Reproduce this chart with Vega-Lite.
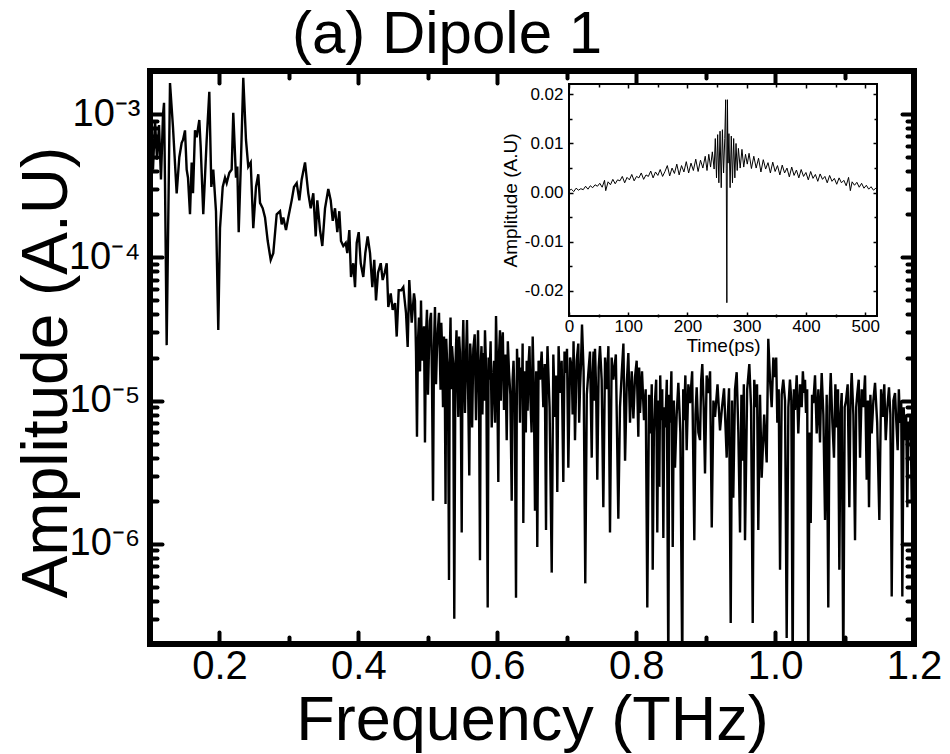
{
"$schema": "https://vega.github.io/schema/vega-lite/v6.json",
"width": 764, "height": 573,
"autosize": {"type": "none"},
"padding": {"left": 150, "top": 71, "right": 36, "bottom": 110},
"background": "white",
"config": {"view": {"stroke": "black", "strokeWidth": 6}, "font": "Liberation Sans"},
"title": {"text": "(a) Dipole 1", "fontSize": 60, "font": "Liberation Sans", "fontWeight": "normal", "anchor": "middle", "dx": -85, "dy": 52, "offset": 8, "baseline": "alphabetic", "color": "black", "frame": "group"},
"datasets": {
"spec": [
{"f":0.1014,"a":8.4e-4},{"f":0.1043,"a":4.1e-4},{"f":0.1072,"a":9.1e-4},{"f":0.1101,"a":4.8e-4},{"f":0.1130,"a":8.4e-4},{"f":0.1158,"a":3.5e-4},{"f":0.1187,"a":9.9e-4},{"f":0.1202,"a":1.2e-3},{"f":0.1216,"a":3.3e-4},{"f":0.1240,"a":2.44e-5},{"f":0.1288,"a":1.65e-3},{"f":0.1331,"a":8.1e-4},{"f":0.1384,"a":2.8e-4},{"f":0.1422,"a":5.0e-4},{"f":0.1456,"a":6.3e-4},{"f":0.1475,"a":6.6e-4},{"f":0.1504,"a":7.7e-4},{"f":0.1528,"a":4.1e-4},{"f":0.1547,"a":3.6e-4},{"f":0.1576,"a":2.0e-4},{"f":0.1600,"a":4.6e-4},{"f":0.1619,"a":2.8e-4},{"f":0.1648,"a":7.7e-4},{"f":0.1672,"a":6.9e-4},{"f":0.1710,"a":9.1e-4},{"f":0.1730,"a":5.9e-4},{"f":0.1767,"a":2.0e-4},{"f":0.1816,"a":6.6e-4},{"f":0.1854,"a":1.43e-3},{"f":0.1883,"a":3.1e-4},{"f":0.1911,"a":4.1e-4},{"f":0.1950,"a":2.1e-4},{"f":0.1983,"a":3.11e-5},{"f":0.2008,"a":1.6e-4},{"f":0.2047,"a":3.1e-4},{"f":0.2080,"a":3.6e-4},{"f":0.2104,"a":3.3e-4},{"f":0.2142,"a":3.9e-4},{"f":0.2176,"a":4.1e-4},{"f":0.2199,"a":1.02e-3},{"f":0.2238,"a":3.6e-4},{"f":0.2257,"a":4.3e-4},{"f":0.2277,"a":1.5e-4},{"f":0.2310,"a":4.8e-4},{"f":0.2343,"a":1.79e-3},{"f":0.2382,"a":6.6e-4},{"f":0.2415,"a":4.3e-4},{"f":0.2450,"a":4.6e-4},{"f":0.2487,"a":1.6e-4},{"f":0.2526,"a":3.1e-4},{"f":0.2559,"a":3.8e-4},{"f":0.2584,"a":2.4e-4},{"f":0.2623,"a":2.2e-4},{"f":0.2656,"a":1.9e-4},{"f":0.2695,"a":1.3e-4},{"f":0.2738,"a":9.6e-5},{"f":0.2775,"a":1.07e-4},{"f":0.2824,"a":2.0e-4},{"f":0.2872,"a":2.1e-4},{"f":0.2896,"a":1.7e-4},{"f":0.2919,"a":1.9e-4},{"f":0.2958,"a":1.55e-4},{"f":0.2991,"a":1.9e-4},{"f":0.3040,"a":2.5e-4},{"f":0.3073,"a":3.1e-4},{"f":0.3112,"a":3.3e-4},{"f":0.3150,"a":2.5e-4},{"f":0.3184,"a":3.5e-4},{"f":0.3232,"a":4.6e-4},{"f":0.3279,"a":2.8e-4},{"f":0.3314,"a":2.2e-4},{"f":0.3351,"a":2.8e-4},{"f":0.3386,"a":1.4e-4},{"f":0.3409,"a":2.5e-4},{"f":0.3448,"a":1.55e-4},{"f":0.3481,"a":1.2e-4},{"f":0.3520,"a":2.2e-4},{"f":0.3567,"a":3.0e-4},{"f":0.3602,"a":2.5e-4},{"f":0.3631,"a":1.8e-4},{"f":0.3664,"a":2.2e-4},{"f":0.3697,"a":1.5e-4},{"f":0.3726,"a":2.1e-4},{"f":0.3750,"a":1.3e-4},{"f":0.3783,"a":1.2e-4},{"f":0.3818,"a":1.26e-4},{"f":0.3841,"a":1.07e-4},{"f":0.3870,"a":1.55e-4},{"f":0.3894,"a":7.3e-5},{"f":0.3927,"a":9.1e-5},{"f":0.3952,"a":6.2e-5},{"f":0.3976,"a":1.26e-4},{"f":0.4005,"a":1.5e-4},{"f":0.4034,"a":9.1e-5},{"f":0.4071,"a":7.3e-5},{"f":0.4100,"a":1.07e-4},{"f":0.4134,"a":1.4e-4},{"f":0.4168,"a":1.07e-4},{"f":0.4201,"a":6.2e-5},{"f":0.4229,"a":9.6e-5},{"f":0.4254,"a":5.0e-5},{"f":0.4283,"a":7.8e-5},{"f":0.4322,"a":9.1e-5},{"f":0.4350,"a":6.95e-5},{"f":0.4379,"a":7.8e-5},{"f":0.4408,"a":9.1e-5},{"f":0.4431,"a":4.5e-5},{"f":0.4466,"a":5.6e-5},{"f":0.4494,"a":4.3e-5},{"f":0.4528,"a":4.8e-5},{"f":0.4552,"a":2.8e-5},{"f":0.4581,"a":5.9e-5},{"f":0.4618,"a":5.9e-5},{"f":0.4647,"a":6.2e-5},{"f":0.4686,"a":4.1e-5},{"f":0.4710,"a":2.37e-5},{"f":0.4733,"a":6.95e-5},{"f":0.4768,"a":3.5e-5},{"f":0.4801,"a":5.6e-5},
{"f":0.4815,"a":5.0e-5},{"f":0.4830,"a":2.2e-5},{"f":0.4844,"a":5.6e-6},{"f":0.4858,"a":2.6e-5},{"f":0.4873,"a":3.8e-5},{"f":0.4888,"a":1.6e-5},{"f":0.4902,"a":5.0e-5},{"f":0.4916,"a":1.9e-5},{"f":0.4931,"a":2.65e-5},{"f":0.4945,"a":3.3e-5},{"f":0.4959,"a":5.1e-6},{"f":0.4974,"a":2.9e-5},{"f":0.4988,"a":4.3e-5},{"f":0.5002,"a":1.1e-5},{"f":0.5017,"a":2.3e-5},{"f":0.5031,"a":3.6e-5},{"f":0.5046,"a":4.1e-5},{"f":0.5060,"a":1.4e-5},{"f":0.5075,"a":2.0e-6},{"f":0.5089,"a":2.4e-5},{"f":0.5103,"a":4.5e-5},{"f":0.5118,"a":1.3e-5},{"f":0.5132,"a":2.3e-5},{"f":0.5146,"a":3.2e-5},{"f":0.5161,"a":4.1e-5},{"f":0.5172,"a":2.2e-5},{"f":0.5183,"a":1.19e-5},{"f":0.5194,"a":3.5e-5},{"f":0.5204,"a":2.5e-5},{"f":0.5219,"a":9.0e-6},{"f":0.5233,"a":2.8e-5},{"f":0.5244,"a":1.5e-5},{"f":0.5255,"a":1.9e-6},{"f":0.5265,"a":2.7e-5},{"f":0.5276,"a":2.0e-5},{"f":0.5290,"a":1.6e-5},{"f":0.5305,"a":5.6e-7},{"f":0.5316,"a":2.1e-5},{"f":0.5327,"a":3.8e-5},{"f":0.5337,"a":1.2e-5},{"f":0.5348,"a":2.4e-5},{"f":0.5365,"a":1.8e-5},{"f":0.5381,"a":3.0e-7},{"f":0.5397,"a":1.7e-5},{"f":0.5413,"a":3.1e-5},{"f":0.5426,"a":1.4e-5},{"f":0.5439,"a":7.7e-6},{"f":0.5451,"a":2.8e-5},{"f":0.5463,"a":2.15e-5},{"f":0.5475,"a":9.0e-6},{"f":0.5488,"a":1.2e-6},{"f":0.5500,"a":2.2e-5},{"f":0.5511,"a":3.65e-5},{"f":0.5523,"a":1.5e-5},{"f":0.5535,"a":8.2e-6},{"f":0.5550,"a":2.0e-5},{"f":0.5564,"a":3.65e-5},{"f":0.5580,"a":1.2e-5},{"f":0.5597,"a":3.0e-6},{"f":0.5610,"a":2.5e-5},{"f":0.5622,"a":1.9e-5},{"f":0.5638,"a":6.5e-6},{"f":0.5655,"a":2.3e-5},{"f":0.5675,"a":2.9e-5},{"f":0.5694,"a":7.3e-6},{"f":0.5708,"a":1.7e-5},{"f":0.5723,"a":3.1e-5},{"f":0.5737,"a":1.1e-5},{"f":0.5751,"a":7.7e-7},{"f":0.5762,"a":1.8e-5},{"f":0.5773,"a":2.4e-5},{"f":0.5786,"a":8.0e-6},{"f":0.5799,"a":2.15e-5},{"f":0.5811,"a":1.0e-5},{"f":0.5823,"a":3.1e-5},{"f":0.5842,"a":1.5e-5},{"f":0.5862,"a":3.6e-7},{"f":0.5875,"a":2.0e-5},{"f":0.5888,"a":1.4e-5},{"f":0.5904,"a":2.6e-5},{"f":0.5920,"a":6.5e-6},{"f":0.5936,"a":1.3e-5},{"f":0.5953,"a":1.9e-5},{"f":0.5968,"a":7.0e-6},{"f":0.5982,"a":3.9e-5},{"f":0.5998,"a":1.6e-5},{"f":0.6015,"a":2.7e-6},{"f":0.6027,"a":2.2e-5},{"f":0.6039,"a":3.1e-5},{"f":0.6051,"a":1.0e-5},{"f":0.6064,"a":2.4e-5},{"f":0.6080,"a":3.0e-5},{"f":0.6097,"a":8.6e-6},{"f":0.6116,"a":2.1e-5},{"f":0.6136,"a":5.3e-6},{"f":0.6152,"a":2.6e-5},{"f":0.6169,"a":1.6e-5},{"f":0.6188,"a":1.1e-5},{"f":0.6208,"a":2.0e-6},{"f":0.6221,"a":1.4e-5},{"f":0.6234,"a":1.9e-5},{"f":0.6252,"a":9.0e-6},{"f":0.6270,"a":4.2e-7},{"f":0.6284,"a":2.3e-5},{"f":0.6298,"a":1.4e-5},{"f":0.6312,"a":2.0e-5},{"f":0.6327,"a":7.0e-6},{"f":0.6341,"a":1.7e-5},{"f":0.6356,"a":1.19e-5},{"f":0.6365,"a":2.5e-5},{"f":0.6375,"a":1.4e-6},{"f":0.6387,"a":8.0e-6},{"f":0.6399,"a":1.6e-5},{"f":0.6411,"a":6.0e-6},{"f":0.6424,"a":1.9e-5},{"f":0.6437,"a":8.5e-6},{"f":0.6450,"a":1.8e-5},{"f":0.6464,"a":2.4e-5},{"f":0.6478,"a":1.0e-5},{"f":0.6494,"a":6.0e-6},{"f":0.6510,"a":2.8e-5},{"f":0.6526,"a":1.2e-5},{"f":0.6543,"a":1.7e-6},{"f":0.6560,"a":1.6e-5},{"f":0.6576,"a":9.5e-7},{"f":0.6595,"a":1.9e-5},{"f":0.6615,"a":1.4e-5},{"f":0.6639,"a":2.2e-5},{"f":0.6663,"a":9.0e-6},{"f":0.6683,"a":1.8e-5},{"f":0.6702,"a":1.25e-6},{"f":0.6712,"a":1.3e-5},{"f":0.6723,"a":2.4e-5},{"f":0.6753,"a":9.0e-6},{"f":0.6784,"a":6.3e-7},{"f":0.6807,"a":2.1e-5},{"f":0.6831,"a":7.7e-6},{"f":0.6848,"a":1.5e-5},{"f":0.6864,"a":2.3e-6},{"f":0.6883,"a":2.4e-5},{"f":0.6903,"a":1.13e-5},{"f":0.6927,"a":1.9e-5},{"f":0.6951,"a":2.7e-6},{"f":0.6968,"a":2.2e-5},{"f":0.6985,"a":1.56e-5},{"f":0.7004,"a":2.3e-5},{"f":0.7023,"a":3.4e-6},{"f":0.7048,"a":2.0e-5},{"f":0.7072,"a":1.7e-5},{"f":0.7085,"a":8.0e-6},{"f":0.7098,"a":2.6e-5},{"f":0.7108,"a":1.4e-5},{"f":0.7119,"a":5.3e-6},{"f":0.7143,"a":1.9e-5},{"f":0.7167,"a":2.5e-5},{"f":0.7179,"a":7.0e-6},{"f":0.7191,"a":1.2e-5},{"f":0.7205,"a":1.8e-5},{"f":0.7220,"a":3.4e-5},{"f":0.7243,"a":1.6e-5},{"f":0.7267,"a":5.3e-7},{"f":0.7289,"a":1.1e-5},{"f":0.7311,"a":1.56e-5},{"f":0.7335,"a":2.2e-5},{"f":0.7360,"a":4.0e-6},{"f":0.7373,"a":1.5e-5},{"f":0.7386,"a":2.2e-5},{"f":0.7396,"a":1.0e-5},{"f":0.7407,"a":2.3e-5},{"f":0.7423,"a":1.2e-5},{"f":0.7440,"a":2.8e-6},{"f":0.7460,"a":1.7e-5},{"f":0.7479,"a":2.4e-5},{"f":0.7503,"a":1.4e-5},{"f":0.7527,"a":1.8e-6},{"f":0.7552,"a":2.0e-5},{"f":0.7576,"a":1.2e-5},{"f":0.7600,"a":2.4e-5},{"f":0.7623,"a":1.2e-6},{"f":0.7647,"a":2.0e-5},{"f":0.7671,"a":1.4e-5},{"f":0.7707,"a":2.1e-5},{"f":0.7743,"a":1.5e-6},{"f":0.7767,"a":9.0e-6},{"f":0.7792,"a":1.56e-5},{"f":0.7816,"a":2.5e-5},{"f":0.7840,"a":3.8e-6},{"f":0.7864,"a":1.3e-5},{"f":0.7887,"a":2.15e-5},{"f":0.7911,"a":7.0e-6},{"f":0.7936,"a":1.6e-5},{"f":0.7960,"a":7.5e-6},{"f":0.7983,"a":1.46e-5},{"f":0.8007,"a":1.9e-5},{"f":0.8031,"a":5.6e-6},{"f":0.8043,"a":1.7e-5},{"f":0.8055,"a":8.2e-6},{"f":0.8084,"a":1.6e-5},{"f":0.8113,"a":7.3e-6},{"f":0.8137,"a":1.2e-5},{"f":0.8160,"a":3.6e-7},{"f":0.8185,"a":1.1e-5},{"f":0.8209,"a":5.9e-6},{"f":0.8224,"a":1.3e-5},{"f":0.8238,"a":6.6e-7},{"f":0.8255,"a":6.0e-6},{"f":0.8271,"a":1.0e-5},{"f":0.8288,"a":1.4e-5},{"f":0.8304,"a":1.2e-6},{"f":0.8319,"a":1.0e-5},{"f":0.8333,"a":2.5e-6},{"f":0.8346,"a":1.5e-5},{"f":0.8358,"a":7.3e-6},{"f":0.8375,"a":1.2e-5},{"f":0.8391,"a":1.1e-6},{"f":0.8405,"a":9.0e-6},{"f":0.8419,"a":6.5e-6},{"f":0.8441,"a":1.4e-5},{"f":0.8463,"a":1.2e-7},{"f":0.8475,"a":1.1e-5},{"f":0.8487,"a":7.0e-6},{"f":0.8507,"a":1.6e-5},{"f":0.8526,"a":9.5e-7},{"f":0.8543,"a":1.0e-5},{"f":0.8559,"a":3.4e-6},{"f":0.8583,"a":8.0e-6},{"f":0.8607,"a":1.33e-5},{"f":0.8636,"a":6.0e-6},{"f":0.8664,"a":1.2e-7},{"f":0.8677,"a":1.2e-5},{"f":0.8689,"a":7.3e-6},{"f":0.8708,"a":1.5e-5},{"f":0.8727,"a":4.5e-6},{"f":0.8751,"a":1.3e-5},{"f":0.8775,"a":9.6e-6},{"f":0.8806,"a":1.6e-5},{"f":0.8837,"a":1.06e-6},{"f":0.8854,"a":8.0e-6},{"f":0.8871,"a":1.24e-5},{"f":0.8895,"a":6.0e-6},{"f":0.8919,"a":5.3e-6},{"f":0.8936,"a":1.4e-5},{"f":0.8952,"a":1.8e-5},{"f":0.8972,"a":9.0e-6},{"f":0.8991,"a":3.1e-6},{"f":0.9015,"a":1.5e-5},{"f":0.9039,"a":1.13e-5},{"f":0.9064,"a":1.6e-5},{"f":0.9088,"a":1.3e-6},{"f":0.9112,"a":1.0e-5},{"f":0.9135,"a":7.7e-6},{"f":0.9171,"a":1.3e-5},{"f":0.9207,"a":6.2e-6},{"f":0.9236,"a":9.0e-6},{"f":0.9265,"a":1.22e-5},{"f":0.9284,"a":7.0e-6},{"f":0.9303,"a":4.0e-6},{"f":0.9320,"a":8.0e-6},{"f":0.9337,"a":1.22e-5},{"f":0.9361,"a":2.8e-7},{"f":0.9380,"a":1.0e-5},{"f":0.9398,"a":2.1e-6},{"f":0.9423,"a":1.2e-5},{"f":0.9447,"a":1.58e-5},{"f":0.9471,"a":6.0e-6},{"f":0.9495,"a":1.2e-6},{"f":0.9515,"a":1.1e-5},{"f":0.9534,"a":3.8e-6},{"f":0.9550,"a":1.3e-5},{"f":0.9567,"a":1.06e-6},{"f":0.9598,"a":1.2e-5},{"f":0.9629,"a":1.8e-5},{"f":0.9654,"a":9.0e-6},{"f":0.9678,"a":2.8e-7},{"f":0.9700,"a":1.4e-5},{"f":0.9721,"a":9.0e-6},{"f":0.9740,"a":1.3e-5},{"f":0.9758,"a":1.25e-6},{"f":0.9783,"a":1.1e-5},{"f":0.9807,"a":2.9e-6},{"f":0.9843,"a":8.0e-6},{"f":0.9879,"a":3.7e-6},{"f":0.9902,"a":2.7e-5},{"f":0.9927,"a":1.4e-5},{"f":0.9951,"a":9.0e-6},{"f":0.9975,"a":2.0e-5},{"f":0.9999,"a":1.46e-5},{"f":1.0016,"a":2.0e-5},{"f":1.0032,"a":7.0e-6},{"f":1.0052,"a":1.2e-5},{"f":1.0071,"a":6.6e-7},{"f":1.0095,"a":1.1e-5},{"f":1.0118,"a":1.4e-5},{"f":1.0143,"a":1.0e-5},{"f":1.0167,"a":2.2e-7},{"f":1.0191,"a":9.0e-6},{"f":1.0214,"a":1.4e-5},{"f":1.0234,"a":1.0e-5},{"f":1.0253,"a":1.2e-7},{"f":1.0270,"a":1.2e-5},{"f":1.0287,"a":8.6e-6},{"f":1.0311,"a":1.5e-5},{"f":1.0334,"a":5.9e-6},{"f":1.0359,"a":1.3e-5},{"f":1.0383,"a":9.0e-6},{"f":1.0400,"a":1.6e-5},{"f":1.0416,"a":1.13e-5},{"f":1.0431,"a":1.4e-5},{"f":1.0445,"a":8.2e-6},{"f":1.0462,"a":1.2e-5},{"f":1.0478,"a":1.2e-7},{"f":1.0496,"a":6.0e-6},{"f":1.0513,"a":1.4e-6},{"f":1.0532,"a":1.1e-5},{"f":1.0550,"a":9.6e-6},{"f":1.0575,"a":1.5e-5},{"f":1.0599,"a":5.9e-6},{"f":1.0623,"a":1.2e-5},{"f":1.0647,"a":5.1e-6},{"f":1.0659,"a":1.0e-5},{"f":1.0671,"a":1.56e-5},{"f":1.0695,"a":8.0e-6},{"f":1.0719,"a":1.47e-6},{"f":1.0743,"a":1.1e-5},{"f":1.0766,"a":3.6e-7},{"f":1.0784,"a":9.0e-6},{"f":1.0801,"a":1.56e-5},{"f":1.0825,"a":7.0e-6},{"f":1.0848,"a":4.0e-6},{"f":1.0868,"a":1.3e-5},{"f":1.0887,"a":6.5e-6},{"f":1.0906,"a":1.2e-5},{"f":1.0925,"a":6.6e-7},{"f":1.0942,"a":8.0e-6},{"f":1.0959,"a":1.13e-5},{"f":1.0982,"a":1.2e-7},{"f":1.1002,"a":9.0e-6},{"f":1.1021,"a":1.0e-5},{"f":1.1045,"a":1.3e-5},{"f":1.1069,"a":1.8e-6},{"f":1.1086,"a":1.0e-5},{"f":1.1103,"a":1.56e-5},{"f":1.1127,"a":8.0e-6},{"f":1.1151,"a":1.06e-6},{"f":1.1168,"a":9.0e-6},{"f":1.1184,"a":1.13e-5},{"f":1.1204,"a":1.4e-5},{"f":1.1223,"a":4.0e-6},{"f":1.1247,"a":1.2e-5},{"f":1.1270,"a":9.0e-6},{"f":1.1295,"a":1.5e-5},{"f":1.1319,"a":2.8e-6},{"f":1.1336,"a":1.0e-5},{"f":1.1352,"a":1.8e-6},{"f":1.1372,"a":1.1e-5},{"f":1.1391,"a":5.9e-6},{"f":1.1415,"a":1.0e-5},{"f":1.1439,"a":1.33e-5},{"f":1.1470,"a":7.0e-6},{"f":1.1501,"a":1.47e-6},{"f":1.1526,"a":1.2e-5},{"f":1.1550,"a":7.7e-6},{"f":1.1572,"a":1.3e-5},{"f":1.1593,"a":5.3e-6},{"f":1.1617,"a":9.0e-6},{"f":1.1640,"a":1.24e-5},{"f":1.1660,"a":8.0e-6},{"f":1.1679,"a":4.3e-7},{"f":1.1703,"a":1.0e-5},{"f":1.1727,"a":1.13e-5},{"f":1.1746,"a":7.0e-6},{"f":1.1765,"a":4.5e-6},{"f":1.1782,"a":1.2e-5},{"f":1.1799,"a":7.0e-6},{"f":1.1816,"a":1.0e-5},{"f":1.1832,"a":4.3e-7},{"f":1.1851,"a":9.0e-6},{"f":1.1870,"a":5.3e-6},{"f":1.1887,"a":8.0e-6},{"f":1.1904,"a":1.8e-6},{"f":1.1919,"a":7.0e-6},{"f":1.1933,"a":5.3e-6},{"f":1.1950,"a":8.0e-6},{"f":1.1967,"a":2.0e-6},{"f":1.1984,"a":6.0e-6},{"f":1.2000,"a":5.3e-6}
],
"td": [
{"t":0,"v":0.0004},{"t":4,"v":0.0007},{"t":8,"v":0.0002},{"t":12,"v":0.0009},{"t":16,"v":0.0005},{"t":20,"v":0.0008},{"t":24,"v":0.0006},{"t":28,"v":0.0013},{"t":32,"v":0.0007},{"t":36,"v":0.0014},{"t":40,"v":0.0010},{"t":44,"v":0.0016},{"t":48,"v":0.0013},{"t":52,"v":0.0019},{"t":56,"v":0.0011},{"t":60,"v":0.0025},{"t":62,"v":0.0004},{"t":66,"v":0.0022},{"t":70,"v":0.0016},{"t":74,"v":0.0027},{"t":78,"v":0.0018},{"t":82,"v":0.0026},{"t":86,"v":0.0024},{"t":90,"v":0.0033},{"t":94,"v":0.0020},{"t":98,"v":0.0031},{"t":102,"v":0.0026},{"t":106,"v":0.0037},{"t":110,"v":0.0024},{"t":114,"v":0.0033},{"t":118,"v":0.0030},{"t":122,"v":0.0040},{"t":126,"v":0.0027},{"t":130,"v":0.0036},{"t":134,"v":0.0033},{"t":138,"v":0.0044},{"t":142,"v":0.0030},{"t":146,"v":0.0042},{"t":150,"v":0.0035},{"t":154,"v":0.0047},{"t":158,"v":0.0033},{"t":162,"v":0.0043},{"t":166,"v":0.0055},{"t":170,"v":0.0034},{"t":174,"v":0.0050},{"t":178,"v":0.0039},{"t":182,"v":0.0058},{"t":186,"v":0.0036},{"t":190,"v":0.0055},{"t":194,"v":0.0042},{"t":198,"v":0.0063},{"t":202,"v":0.0040},{"t":206,"v":0.0060},{"t":210,"v":0.0045},{"t":214,"v":0.0068},{"t":218,"v":0.0043},{"t":222,"v":0.0066},{"t":226,"v":0.0050},{"t":230,"v":0.0074},{"t":233,"v":0.0045},{"t":236,"v":0.0078},{"t":239,"v":0.0052},{"t":242,"v":0.0083},{"t":245,"v":0.0048},{"t":247,"v":0.0110},{"t":249,"v":0.0030},{"t":251,"v":0.0118},{"t":253,"v":0.0020},{"t":255,"v":0.0125},{"t":257,"v":0.0010},{"t":259,"v":0.0128},{"t":261,"v":0.0040},{"t":263,"v":0.0110},{"t":264.5,"v":0.0189},{"t":265.5,"v":0.0050},{"t":266.5,"v":-0.0224},{"t":267.5,"v":0.0189},{"t":268.5,"v":0.0060},{"t":270,"v":0.0120},{"t":272,"v":0.0010},{"t":274,"v":0.0115},{"t":276,"v":0.0020},{"t":278,"v":0.0110},{"t":280,"v":0.0030},{"t":282,"v":0.0100},{"t":284,"v":0.0045},{"t":286,"v":0.0090},{"t":289,"v":0.0050},{"t":292,"v":0.0088},{"t":295,"v":0.0052},{"t":298,"v":0.0078},{"t":301,"v":0.0058},{"t":304,"v":0.0080},{"t":308,"v":0.0049},{"t":312,"v":0.0074},{"t":316,"v":0.0050},{"t":320,"v":0.0070},{"t":324,"v":0.0042},{"t":328,"v":0.0067},{"t":332,"v":0.0048},{"t":336,"v":0.0061},{"t":340,"v":0.0040},{"t":344,"v":0.0062},{"t":348,"v":0.0043},{"t":352,"v":0.0055},{"t":356,"v":0.0036},{"t":360,"v":0.0056},{"t":364,"v":0.0040},{"t":368,"v":0.0050},{"t":372,"v":0.0032},{"t":376,"v":0.0052},{"t":380,"v":0.0035},{"t":384,"v":0.0046},{"t":388,"v":0.0030},{"t":392,"v":0.0047},{"t":396,"v":0.0033},{"t":400,"v":0.0041},{"t":404,"v":0.0026},{"t":408,"v":0.0043},{"t":412,"v":0.0029},{"t":416,"v":0.0037},{"t":420,"v":0.0023},{"t":424,"v":0.0038},{"t":428,"v":0.0027},{"t":432,"v":0.0033},{"t":436,"v":0.0020},{"t":440,"v":0.0035},{"t":444,"v":0.0023},{"t":448,"v":0.0029},{"t":452,"v":0.0017},{"t":456,"v":0.0030},{"t":460,"v":0.0020},{"t":464,"v":0.0025},{"t":468,"v":0.0014},{"t":472,"v":0.0031},{"t":475,"v":0.0004},{"t":478,"v":0.0022},{"t":482,"v":0.0015},{"t":486,"v":0.0021},{"t":490,"v":0.0011},{"t":494,"v":0.0019},{"t":498,"v":0.0009},{"t":502,"v":0.0015},{"t":506,"v":0.0007},{"t":510,"v":0.0012},{"t":514,"v":0.0005},{"t":518,"v":0.0009},{"t":520,"v":0.0006}
]
},
"layer": [
{
"layer": [
{
"data": {"name": "spec"},
"mark": {"type": "line", "color": "black", "strokeWidth": 2.4, "clip": true},
"encoding": {
"x": {"field": "f", "type": "quantitative", "scale": {"domain": [0.1, 1.2], "nice": false, "zero": false},
"axis": {"orient": "bottom", "values": [0.2, 0.4, 0.6, 0.8, 1.0, 1.2], "offset": -12, "tickSize": 12, "tickWidth": 4, "tickCap": "round", "tickColor": "black", "domain": false, "grid": false, "labelFontSize": 40, "labelFont": "Liberation Sans", "labelColor": "black", "labelPadding": 2, "labelFlush": false, "labelOverlap": false, "labelBound": false, "labelExpr": "format(datum.value, '.1f')", "title": "Frequency (THz)", "titleFontSize": 63, "titleFont": "Liberation Sans", "titleFontWeight": "normal", "titleColor": "black", "titlePadding": 3}},
"y": {"field": "a", "type": "quantitative", "scale": {"type": "log", "domain": [2e-7, 2e-3], "nice": false},
"axis": {"orient": "left", "values": [1e-6, 1e-5, 1e-4, 1e-3], "offset": -12, "tickSize": 12, "tickWidth": 4, "tickCap": "round", "tickColor": "black", "domain": false, "grid": false, "labelFontSize": 38, "labelFont": "Liberation Sans", "labelColor": "black", "labelPadding": 10, "labelOverlap": false, "labelBound": false, "labelFlush": false, "labelExpr": "datum.value == 0.001 ? '10⁻³' : datum.value == 0.0001 ? '10⁻⁴' : datum.value == 0.00001 ? '10⁻⁵' : '10⁻⁶'", "title": "Amplitude (A.U)", "titleFontSize": 64, "titleFont": "Liberation Sans", "titleFontWeight": "normal", "titleColor": "black", "titlePadding": -11, "titleY": 301}}
}
},
{
"data": {"name": "spec"},
"mark": {"type": "point", "opacity": 0},
"encoding": {
"x": {"field": "f", "type": "quantitative", "axis": {"orient": "bottom", "values": [0.3, 0.5, 0.7, 0.9, 1.1], "offset": -7, "tickSize": 7, "tickWidth": 4, "tickCap": "round", "tickColor": "black", "domain": false, "grid": false, "labels": false, "title": null}},
"y": {"field": "a", "type": "quantitative", "axis": {"orient": "left", "values": [2e-7,3e-7,4e-7,5e-7,6e-7,7e-7,8e-7,9e-7,2e-6,3e-6,4e-6,5e-6,6e-6,7e-6,8e-6,9e-6,2e-5,3e-5,4e-5,5e-5,6e-5,7e-5,8e-5,9e-5,2e-4,3e-4,4e-4,5e-4,6e-4,7e-4,8e-4,9e-4,2e-3], "offset": -7, "tickSize": 7, "tickWidth": 4, "tickCap": "round", "tickColor": "black", "domain": false, "grid": false, "labels": false, "title": null}}
}
},
{
"data": {"name": "spec"},
"mark": {"type": "point", "opacity": 0},
"encoding": {
"x": {"field": "f", "type": "quantitative", "axis": {"orient": "top", "values": [0.2, 0.4, 0.6, 0.8, 1.0, 1.2], "offset": -12, "tickSize": 12, "tickWidth": 4, "tickCap": "round", "tickColor": "black", "domain": false, "grid": false, "labels": false, "title": null}},
"y": {"field": "a", "type": "quantitative", "axis": {"orient": "right", "values": [1e-6, 1e-5, 1e-4, 1e-3], "offset": -12, "tickSize": 12, "tickWidth": 4, "tickCap": "round", "tickColor": "black", "domain": false, "grid": false, "labels": false, "title": null}}
}
},
{
"data": {"name": "spec"},
"mark": {"type": "point", "opacity": 0},
"encoding": {
"x": {"field": "f", "type": "quantitative", "axis": {"orient": "top", "values": [0.3, 0.5, 0.7, 0.9, 1.1], "offset": -7, "tickSize": 7, "tickWidth": 4, "tickCap": "round", "tickColor": "black", "domain": false, "grid": false, "labels": false, "title": null}},
"y": {"field": "a", "type": "quantitative", "axis": {"orient": "right", "values": [2e-7,3e-7,4e-7,5e-7,6e-7,7e-7,8e-7,9e-7,2e-6,3e-6,4e-6,5e-6,6e-6,7e-6,8e-6,9e-6,2e-5,3e-5,4e-5,5e-5,6e-5,7e-5,8e-5,9e-5,2e-4,3e-4,4e-4,5e-4,6e-4,7e-4,8e-4,9e-4,2e-3], "offset": -7, "tickSize": 7, "tickWidth": 4, "tickCap": "round", "tickColor": "black", "domain": false, "grid": false, "labels": false, "title": null}}
}
}
],
"resolve": {"axis": {"x": "independent", "y": "independent"}}
},
{
"layer": [
{
"data": {"values": [{"t0": 0, "t1": 520, "v0": -0.0251, "v1": 0.0221}]},
"mark": {"type": "rect", "fill": "white", "stroke": "black", "strokeWidth": 2},
"encoding": {
"x": {"field": "t0", "type": "quantitative", "scale": {"domain": [0, 520], "range": [419, 727], "nice": false, "zero": false}, "axis": null},
"x2": {"field": "t1"},
"y": {"field": "v0", "type": "quantitative", "scale": {"domain": [-0.0251, 0.0221], "range": [245, 13], "nice": false, "zero": false}, "axis": null},
"y2": {"field": "v1"}
}
},
{
"data": {"name": "td"},
"mark": {"type": "line", "color": "black", "strokeWidth": 1},
"encoding": {
"x": {"field": "t", "type": "quantitative", "axis": {"orient": "bottom", "values": [0, 100, 200, 300, 400, 500], "offset": -332, "tickSize": 4, "tickWidth": 1.5, "tickColor": "black", "domain": false, "grid": false, "zindex": 1, "labelFontSize": 17, "labelFont": "Liberation Sans", "labelColor": "black", "labelPadding": 2, "labelFlush": false, "labelOverlap": false, "labelBound": false, "labelExpr": "format(datum.value, 'd')", "title": "Time(ps)", "titleFontSize": 19, "titleFont": "Liberation Sans", "titleFontWeight": "normal", "titleColor": "black", "titlePadding": 2}},
"y": {"field": "v", "type": "quantitative", "axis": {"orient": "left", "values": [-0.02, -0.01, 0, 0.01, 0.02], "offset": -423, "tickSize": 4, "tickWidth": 1.5, "tickColor": "black", "domain": false, "grid": false, "zindex": 1, "labelFontSize": 17, "labelFont": "Liberation Sans", "labelColor": "black", "labelPadding": 6, "labelFlush": false, "labelOverlap": false, "labelBound": false, "labelExpr": "replace(format(datum.value, '.2f'), '−', '-')", "title": "Amplitude (A.U)", "titleFontSize": 19, "titleFont": "Liberation Sans", "titleFontWeight": "normal", "titleColor": "black", "titlePadding": 4}}
}
},
{
"data": {"name": "td"},
"mark": {"type": "point", "opacity": 0},
"encoding": {
"x": {"field": "t", "type": "quantitative", "axis": {"orient": "bottom", "values": [50, 150, 250, 350, 450], "offset": -330, "tickSize": 3, "tickWidth": 1.5, "tickColor": "black", "domain": false, "grid": false, "zindex": 1, "labels": false, "title": null}},
"y": {"field": "v", "type": "quantitative", "axis": {"orient": "left", "values": [-0.015, -0.005, 0.005, 0.015], "offset": -422, "tickSize": 3, "tickWidth": 1.5, "tickColor": "black", "domain": false, "grid": false, "zindex": 1, "labels": false, "title": null}}
}
},
{
"data": {"name": "td"},
"mark": {"type": "point", "opacity": 0},
"encoding": {
"x": {"field": "t", "type": "quantitative", "axis": {"orient": "top", "values": [0, 100, 200, 300, 400, 500], "offset": -17, "tickSize": 4, "tickWidth": 1.5, "tickColor": "black", "domain": false, "grid": false, "zindex": 1, "labels": false, "title": null}},
"y": {"field": "v", "type": "quantitative", "axis": {"orient": "right", "values": [-0.02, -0.01, 0, 0.01, 0.02], "offset": -41, "tickSize": 4, "tickWidth": 1.5, "tickColor": "black", "domain": false, "grid": false, "zindex": 1, "labels": false, "title": null}}
}
},
{
"data": {"name": "td"},
"mark": {"type": "point", "opacity": 0},
"encoding": {
"x": {"field": "t", "type": "quantitative", "axis": {"orient": "top", "values": [50, 150, 250, 350, 450], "offset": -16, "tickSize": 3, "tickWidth": 1.5, "tickColor": "black", "domain": false, "grid": false, "zindex": 1, "labels": false, "title": null}},
"y": {"field": "v", "type": "quantitative", "axis": {"orient": "right", "values": [-0.015, -0.005, 0.005, 0.015], "offset": -40, "tickSize": 3, "tickWidth": 1.5, "tickColor": "black", "domain": false, "grid": false, "zindex": 1, "labels": false, "title": null}}
}
}
],
"resolve": {"axis": {"x": "independent", "y": "independent"}}
}
],
"resolve": {"scale": {"x": "independent", "y": "independent"}}
}
